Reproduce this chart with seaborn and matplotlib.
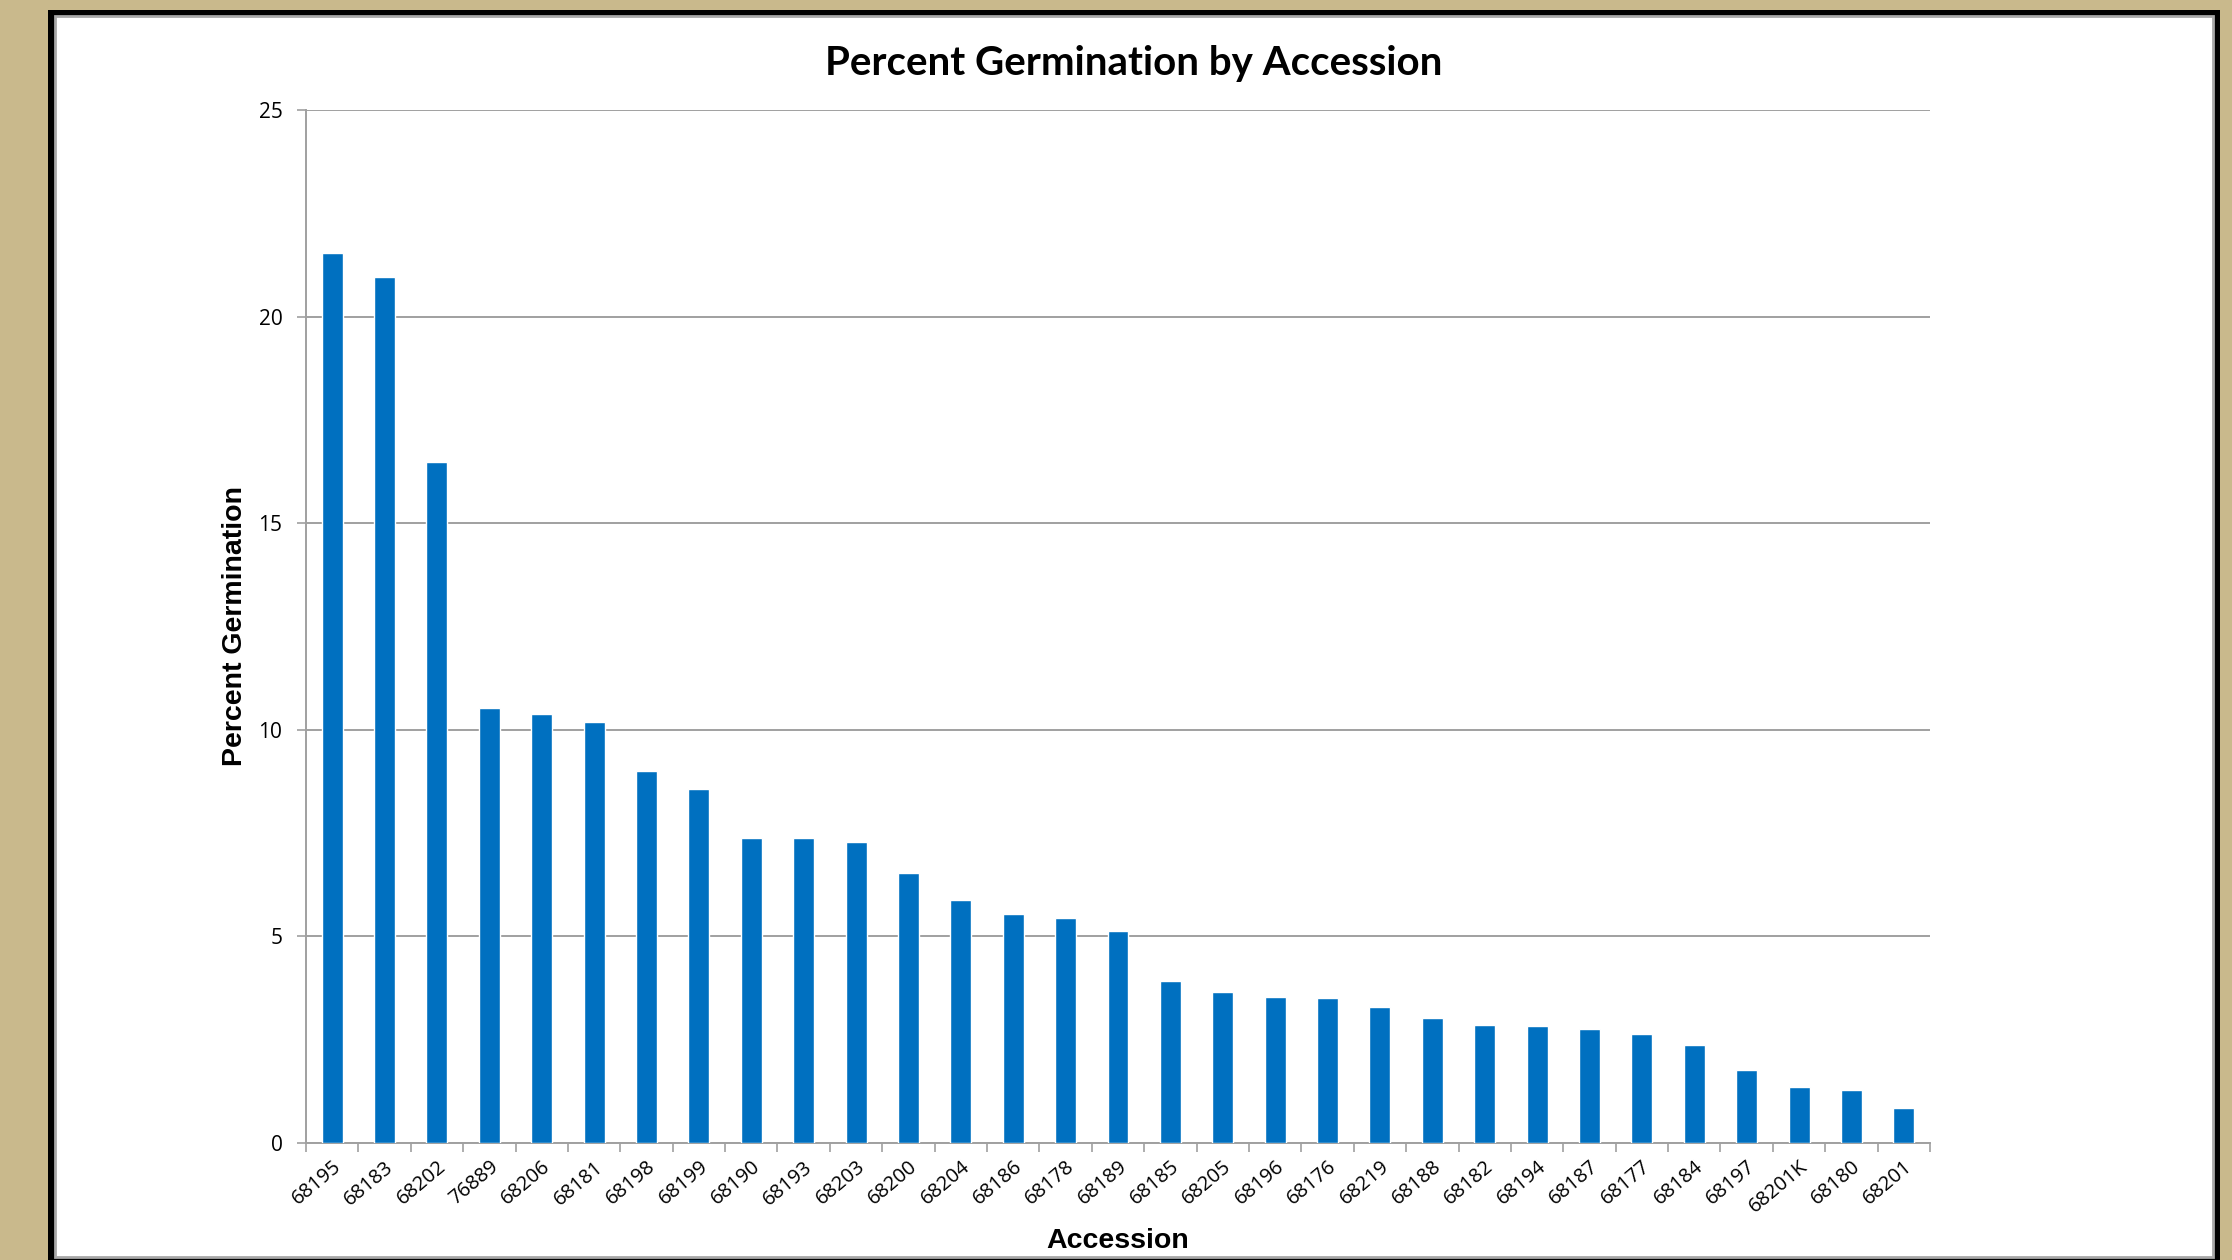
import matplotlib
matplotlib.use("Agg")
import matplotlib.pyplot as plt
import matplotlib.patches as mpatches
import seaborn as sns
import pandas as pd
import numpy as np

accessions = ["68195", "68183", "68202", "76889", "68206", "68181", "68198", "68199",
              "68190", "68193", "68203", "68200", "68204", "68186", "68178", "68189",
              "68185", "68205", "68196", "68176", "68219", "68188", "68182", "68194",
              "68187", "68177", "68184", "68197", "68201K", "68180", "68201"]
germination = [21.55, 20.97, 16.49, 10.52, 10.38, 10.19, 9.01, 8.57,
               7.38, 7.38, 7.29, 6.54, 5.89, 5.55, 5.44, 5.14,
               3.93, 3.65, 3.53, 3.50, 3.28, 3.03, 2.85, 2.83,
               2.75, 2.63, 2.38, 1.76, 1.35, 1.28, 0.84]
y_ticks = [0, 5, 10, 15, 20, 25]

title_text = "Percent Germination by Accession"
x_label = "Accession"
y_label = "Percent Germination"

W, H = 2232, 1260
sns.set_theme(style="white")
plt.rcParams["font.family"] = ["Open Sans", "DejaVu Sans"]

fig = plt.figure(figsize=(W / 100, H / 100), dpi=100)
fig.patch.set_facecolor("#C9B98C")

# frame: black border and white panel
fig.add_artist(mpatches.Rectangle((48 / W, -0.02), (2220 - 48) / W, 1 - 10 / H + 0.02,
                                  transform=fig.transFigure, facecolor="black",
                                  edgecolor="none", zorder=0))
fig.add_artist(mpatches.Rectangle((55 / W, 3 / H), (2213 - 55) / W, (1257 - 16) / H,
                                  transform=fig.transFigure, facecolor="white",
                                  edgecolor="#A8A8A8", linewidth=2, zorder=0.5))

ax = fig.add_axes([306 / W, 1 - 1143 / H, (1930 - 306) / W, (1143 - 110) / H])
ax.set_zorder(2)
ax.set_facecolor("none")

df = pd.DataFrame({"Accession": accessions, "Germination": germination})
sns.barplot(data=df, x="Accession", y="Germination", order=accessions,
            color="#0070C0", saturation=1, width=0.4, ax=ax, zorder=3)

ax.set_ylim(0, 25)
ax.set_xlim(-0.5, len(accessions) - 0.5)
ax.set_yticks(y_ticks)
ax.set_yticklabels([str(t) for t in y_ticks])
ax.set_axisbelow(True)
grey = "#A0A0A0"
ax.yaxis.grid(True, color=grey, linewidth=1.4)
ax.xaxis.grid(False)

for side in ["top", "right"]:
    ax.spines[side].set_visible(False)
for side in ["left", "bottom"]:
    ax.spines[side].set_color(grey)
    ax.spines[side].set_linewidth(1.4)

ax.tick_params(axis="y", which="major", left=True, length=6.5, width=1.2,
               color=grey, pad=10.5, labelsize=15, labelcolor="black")
ax.set_xticks(np.arange(len(accessions)))
ax.set_xticks(np.arange(len(accessions) + 1) - 0.5, minor=True)
ax.tick_params(axis="x", which="major", bottom=True, length=0, pad=10,
               labelsize=14.5, labelcolor="black")
ax.tick_params(axis="x", which="minor", bottom=True, length=6.5, width=1.2, color=grey)
for lbl in ax.get_xticklabels():
    lbl.set_rotation(40)
    lbl.set_ha("right")
    lbl.set_va("top")
    lbl.set_rotation_mode("anchor")

ax.set_xlabel("")
ax.set_ylabel("")

fig.text(1134 / W, 1 - 75 / H, title_text, ha="center", va="baseline", color="black",
         fontsize=29, fontweight="bold", family=["Lato", "DejaVu Sans"])
fig.text(235 / W, 1 - 626 / H, y_label, ha="center", va="center", rotation=90,
         color="black", fontsize=20.5, fontweight="bold",
         family=["Liberation Sans", "DejaVu Sans"])
fig.text(1118 / W, 1 - 1248 / H, x_label, ha="center", va="baseline", color="black",
         fontsize=20.5, fontweight="bold", family=["Liberation Sans", "DejaVu Sans"])

fig.savefig("out.png", dpi=100, facecolor=fig.get_facecolor())
